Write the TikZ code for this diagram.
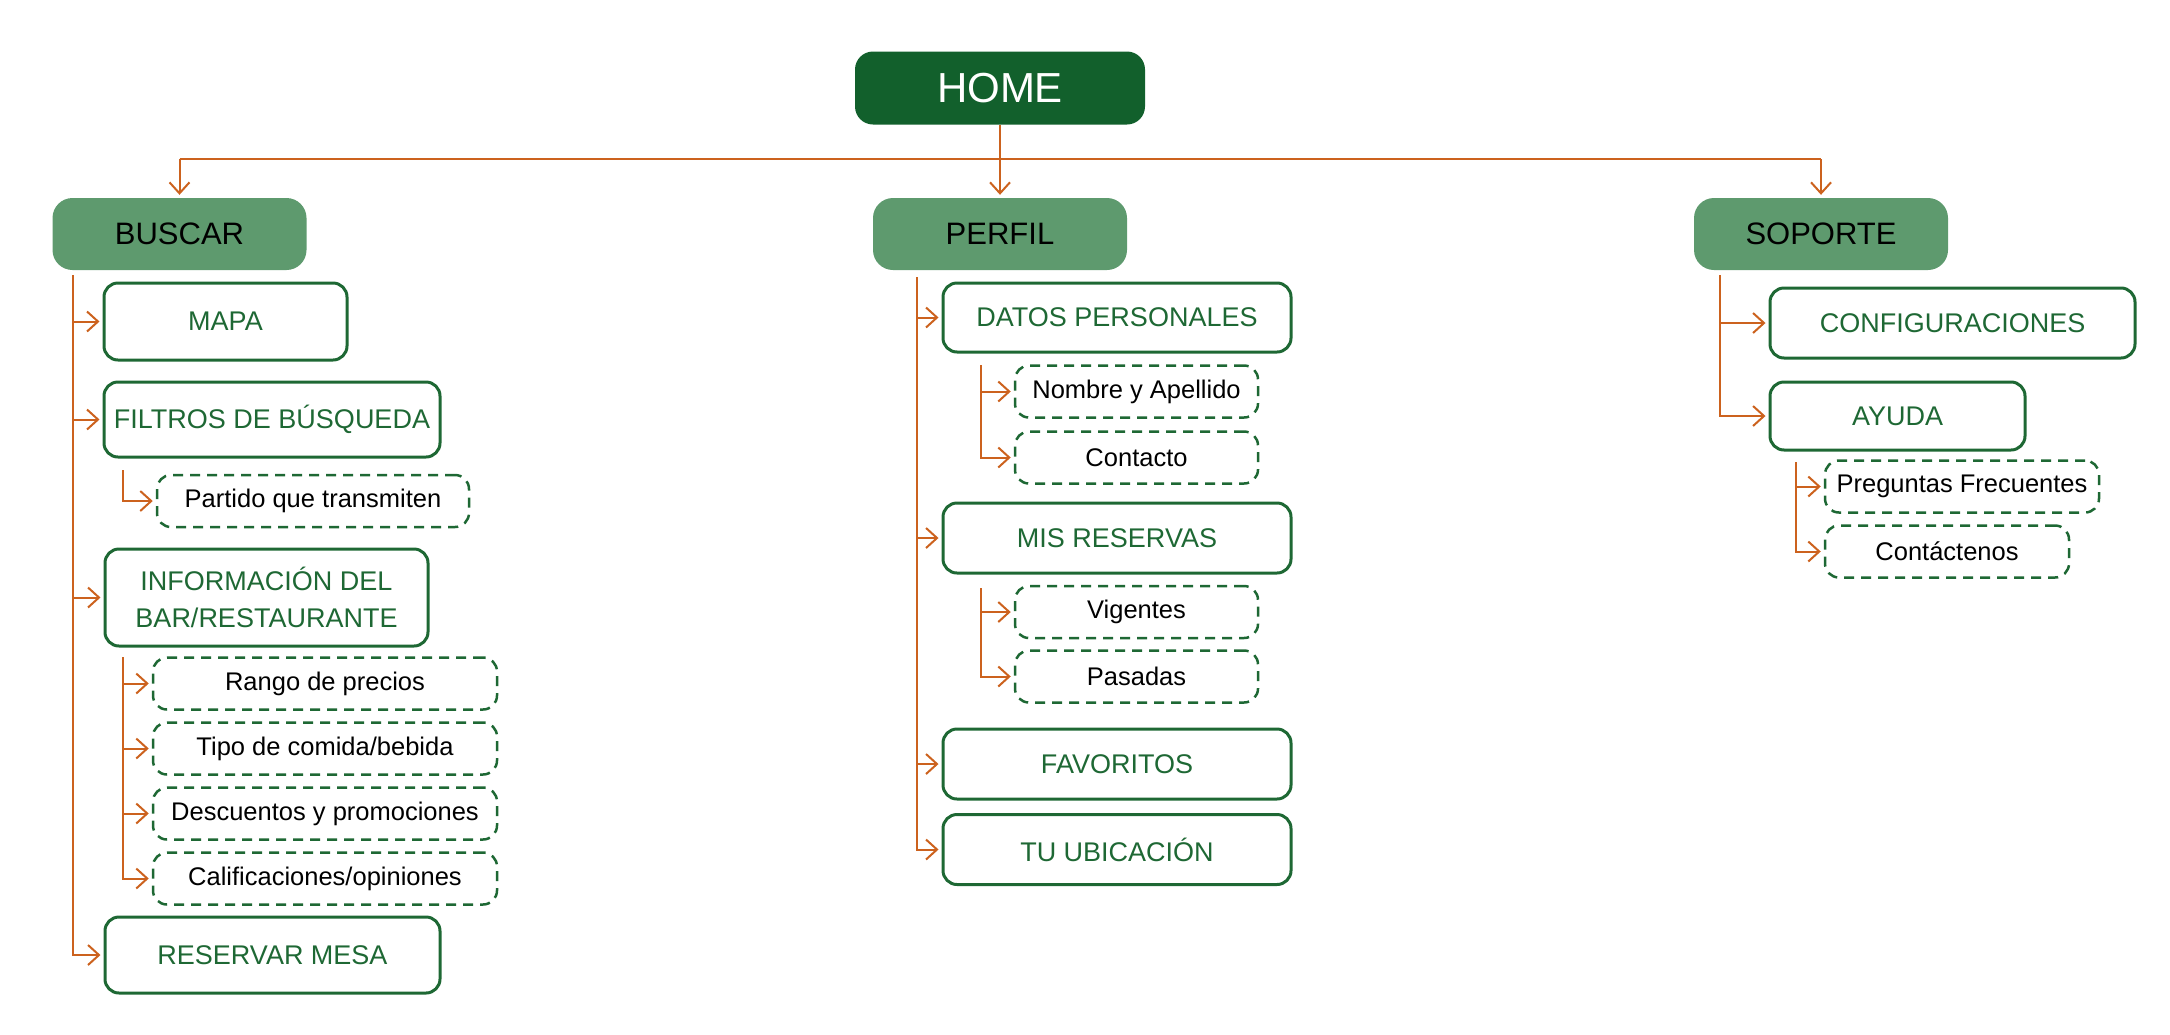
\documentclass[tikz,border=0pt]{standalone}
\usepackage{fontspec}
\setmainfont{Liberation Sans}
\usetikzlibrary{arrows.meta}
\definecolor{homegreen}{RGB}{18,96,44}
\definecolor{midgreen}{RGB}{94,154,110}
\definecolor{boxgreen}{RGB}{30,104,52}
\definecolor{linkorange}{RGB}{204,98,30}

\tikzset{
  homebox/.style={fill=homegreen, rounded corners=18pt, text=white,
    font=\fontsize{42}{48}\selectfont, minimum width=290pt, minimum height=73pt},
  sectionbox/.style={fill=midgreen, rounded corners=20pt,
    font=\fontsize{31}{36}\selectfont, minimum width=254pt, minimum height=72pt},
  itembox/.style={draw=boxgreen, line width=3pt, rounded corners=14pt, text=boxgreen,
    font=\fontsize{27}{37}\selectfont, minimum height=70pt, align=center},
  subbox/.style={draw=boxgreen, line width=2.5pt, dash pattern=on 10pt off 7pt,
    rounded corners=14pt, font=\fontsize{25.5}{28}\selectfont, minimum height=52pt},
  link/.style={draw=linkorange, line width=2pt},
  arr/.style={link, -{Straight Barb[length=11pt,width=20pt]}, shorten >=3pt},
}

\begin{document}
\begin{tikzpicture}[x=1pt, y=-1pt]
\useasboundingbox (0,0) rectangle (2170,1034);

%---------------------------------------
% Top level
%---------------------------------------
\node[homebox] (home) at (1000,88) {HOME};

\node[sectionbox] (buscar)  at (179.5,234) {BUSCAR};
\node[sectionbox] (perfil)  at (1000,234)  {PERFIL};
\node[sectionbox] (soporte) at (1821,234)  {SOPORTE};

\coordinate (hl) at (179.5,159);
\coordinate (hr) at (1821,159);
\draw[link] (hl) -- (hr);
\draw[arr] (hl) -- (buscar.north);
\draw[arr] (home.south) -- (perfil.north);
\draw[arr] (hr) -- (soporte.north);

%====================================================
% BUSCAR
%====================================================
\node[itembox, minimum width=243pt, minimum height=77pt] (mapa) at (225.5,321.5) {MAPA};
\node[itembox, minimum width=336pt, minimum height=75pt] (filtros) at (272,419.5) {FILTROS DE BÚSQUEDA};
\node[subbox, minimum width=312pt] (partido) at (313,501) {Partido que transmiten};
\node[itembox, minimum width=323pt, minimum height=97pt] (info) at (266.5,597.5)
  {INFORMACIÓN DEL\\BAR/RESTAURANTE};
\node[subbox, minimum width=344pt] (rango)  at (325,683.5) {Rango de precios};
\node[subbox, minimum width=344pt] (tipo)   at (325,748.5) {Tipo de comida/bebida};
\node[subbox, minimum width=344pt] (desc)   at (325,813.5) {Descuentos y promociones};
\node[subbox, minimum width=344pt] (calif)  at (325,878.5) {Calificaciones/opiniones};
\node[itembox, minimum width=335pt, minimum height=76pt] (reservar) at (272.5,955) {RESERVAR MESA};

% Connectors
\coordinate (bt) at (73,275);
\foreach \n in {mapa, filtros, info, reservar}
  \draw[arr] (bt) |- (\n.west);
\coordinate (ft) at (123,470);
\draw[arr] (ft) |- (partido.west);
\coordinate (it) at (123,657);
\foreach \n in {rango, tipo, desc, calif}
  \draw[arr] (it) |- (\n.west);

%====================================================
% PERFIL
%====================================================
\node[itembox, minimum width=348pt, minimum height=69pt] (datos) at (1117,317.5) {DATOS PERSONALES};
\node[subbox, minimum width=243pt] (nombre)   at (1136.5,391.5) {Nombre y Apellido};
\node[subbox, minimum width=243pt] (contacto) at (1136.5,457.5) {Contacto};
\node[itembox, minimum width=348pt] (reservas) at (1117,538) {MIS RESERVAS};
\node[subbox, minimum width=243pt] (vigentes) at (1136.5,612) {Vigentes};
\node[subbox, minimum width=243pt] (pasadas)  at (1136.5,676.5) {Pasadas};
\node[itembox, minimum width=348pt] (favoritos) at (1117,764) {FAVORITOS};
\node[itembox, minimum width=348pt] (ubicacion) at (1117,849.5) {TU UBICACIÓN};

% Connectors
\coordinate (pt) at (917,277);
\foreach \n in {datos, reservas, favoritos, ubicacion}
  \draw[arr] (pt) |- (\n.west);
\coordinate (dt) at (981,365);
\foreach \n in {nombre, contacto}
  \draw[arr] (dt) |- (\n.west);
\coordinate (rt) at (981,588);
\foreach \n in {vigentes, pasadas}
  \draw[arr] (rt) |- (\n.west);

%====================================================
% SOPORTE
%====================================================
\node[itembox, minimum width=365pt] (config) at (1952.5,323) {CONFIGURACIONES};
\node[itembox, minimum width=255pt, minimum height=68pt] (ayuda) at (1897.5,416) {AYUDA};
\node[subbox, minimum width=274pt] (preguntas) at (1962,486.5) {Preguntas Frecuentes};
\node[subbox, minimum width=244pt] (contactenos) at (1947,551.5) {Contáctenos};

% Connectors
\coordinate (st) at (1720,275);
\foreach \n in {config, ayuda}
  \draw[arr] (st) |- (\n.west);
\coordinate (at) at (1796,462);
\foreach \n in {preguntas, contactenos}
  \draw[arr] (at) |- (\n.west);

\end{tikzpicture}
\end{document}
